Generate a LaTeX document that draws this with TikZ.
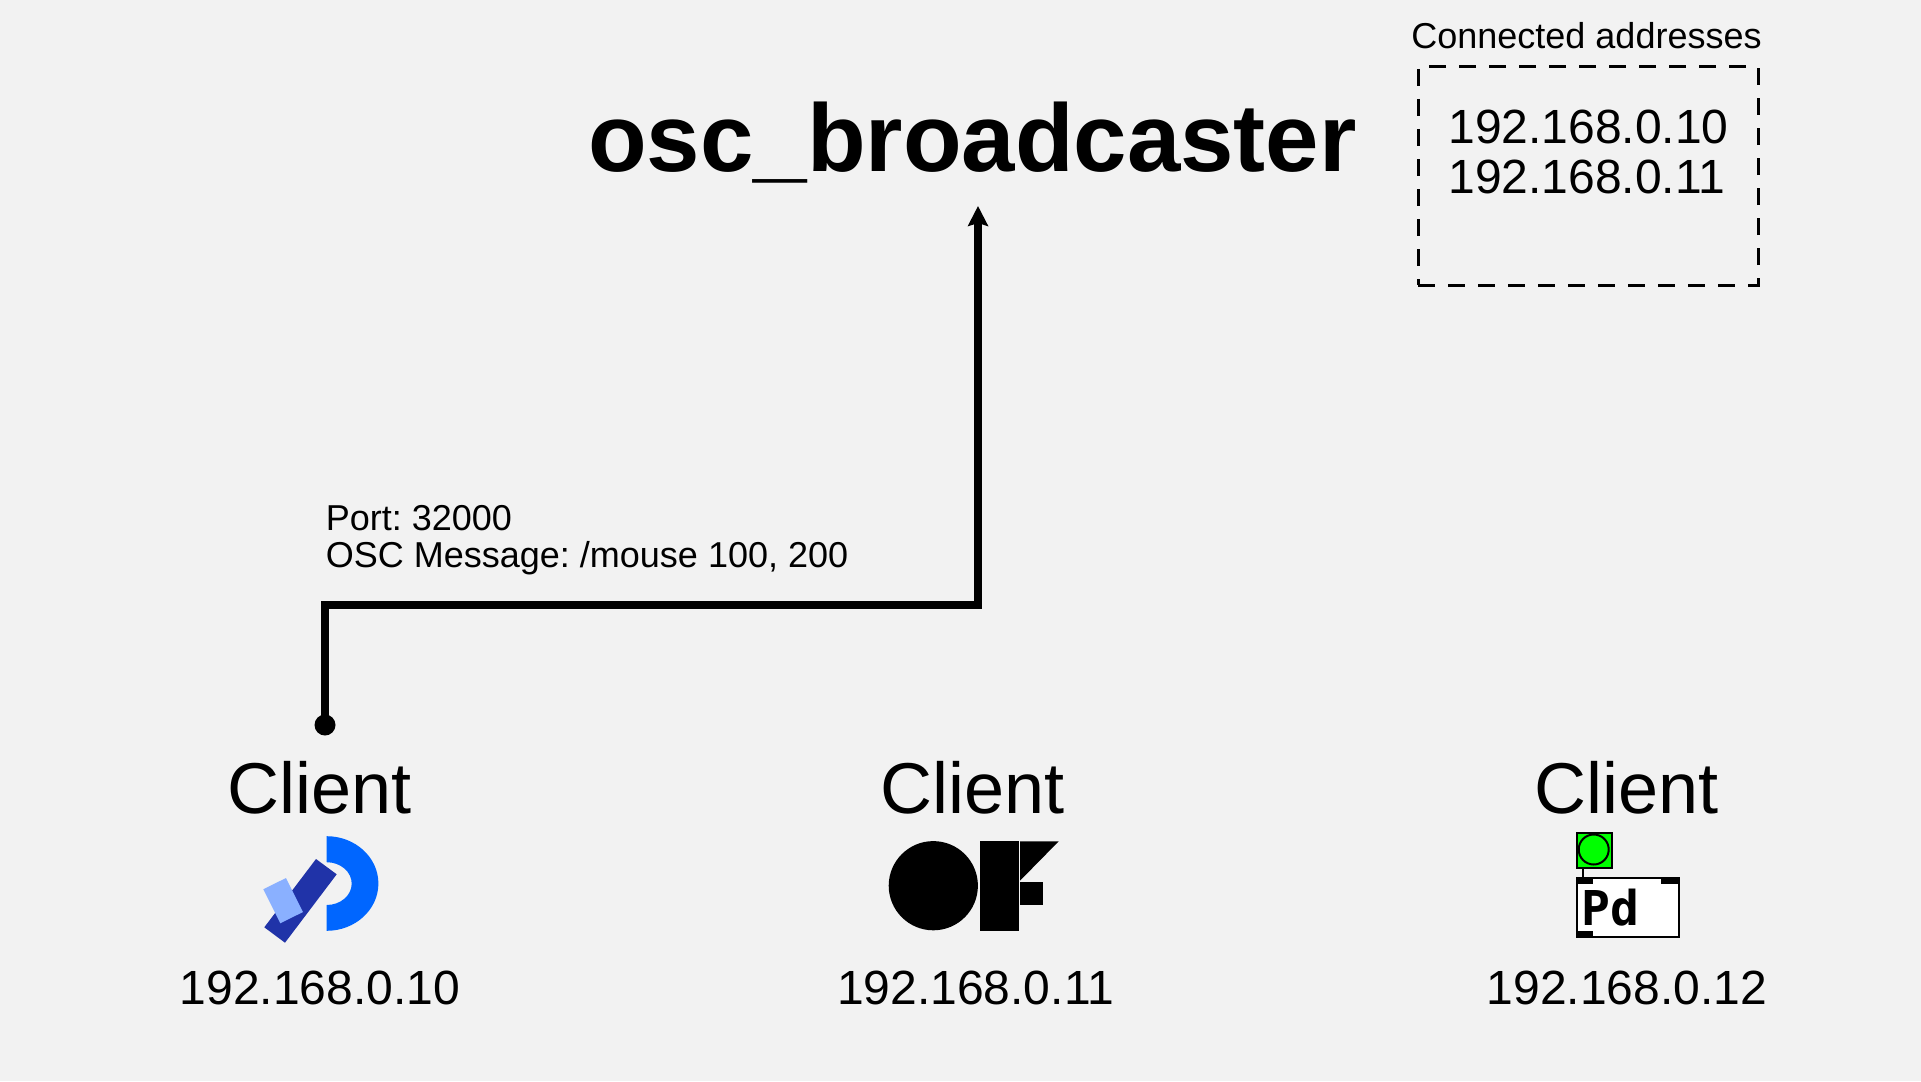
\documentclass[tikz,border=0pt]{standalone}
\usepackage{fontspec}
\setmainfont{Liberation Sans}
\newfontfamily\pdmono{DejaVu Sans Mono}
\usetikzlibrary{arrows.meta}
\definecolor{pagegrey}{HTML}{F2F2F2}
\definecolor{logoblue}{HTML}{0066FF}
\definecolor{logonavy}{HTML}{2033A8}
\definecolor{logosky}{HTML}{8AB0FF}
\definecolor{pdgreen}{HTML}{00FF00}
\tikzset{
  txt/.style={inner sep=0pt,outer sep=0pt,anchor=base},
  clientname/.style={txt,font=\fontsize{36pt}{36pt}\selectfont},
  clientaddr/.style={txt,font=\fontsize{24pt}{24pt}\selectfont},
  wire/.style={line width=3.7pt,miter limit=10},
  pdline/.style={draw=black,line width=1pt},
}
\begin{document}
\frenchspacing
\begin{tikzpicture}[x=0.5pt,y=-0.5pt]
            \useasboundingbox (0,0) rectangle (1921,1081);
            \fill[pagegrey] (0,0) rectangle (1921,1081);
            \node[txt,font=\bfseries\fontsize{48pt}{48pt}\selectfont] (title) at (972.5,171) {osc\_broadcaster};
            %connected list
            \node[txt,font=\fontsize{18pt}{18pt}\selectfont] (listhead) at (1586.5,49) {Connected addresses};
            \node[draw,line width=1.5pt,dash pattern=on 8.5pt off 6.5pt,minimum width=170pt,minimum height=109pt,outer sep=0pt,inner sep=0pt] (listbox) at (1588,176) {};
            \node[inner sep=0pt,anchor=north west,align=left,font=\fontsize{24pt}{25pt}\selectfont] (listaddr) at (1448,110) {192.168.0.10\\192.168.0.11};
            %message
            \node[inner sep=0pt,anchor=north west,align=left,font=\fontsize{18pt}{18.5pt}\selectfont] (msg) at (325.5,505) {Port: 32000\\OSC Message: /mouse 100, 200};
            \node[circle,fill=black,minimum size=10.5pt,inner sep=0pt] (srcdot) at (325,725) {};
            \coordinate (bendl) at (325,605);
            \coordinate (bendr) at (978,605);
            \coordinate (inport) at (978,206);
            \draw[wire,-{Stealth[length=10pt,width=10pt,inset=1.5pt]}] (srcdot.center) -- (bendl) -- (bendr) -- (inport);
            %clients
            \node[clientname] (namea) at (319.5,813.5) {Client};
            \node[clientname] (nameb) at (973,813.5) {Client};
            \node[clientname] (namec) at (1627,813.5) {Client};
            \node[clientaddr] (addra) at (320,1004) {192.168.0.10};
            \node[clientaddr] (addrb) at (975.5,1004) {192.168.0.11};
            \node[clientaddr] (addrc) at (1627,1004) {192.168.0.12};
            %first logo
            \fill[logoblue] (326.7,836.2) arc[start angle=-90,end angle=90,x radius=51.7,y radius=47.3] -- (326.7,905) arc[start angle=90,end angle=-90,x radius=25,y radius=21.4] -- cycle;
            \fill[logonavy] (316,859) -- (336.7,874.3) -- (285,942.7) -- (264.3,927.3) -- cycle;
            \fill[logosky] (263.3,889.3) -- (286,878) -- (303,912) -- (280.3,923.3) -- cycle;
            %second logo
            \fill (933.3,885.7) circle[radius=22.3pt];
            \fill (980,841.3) rectangle (1019,930.7);
            \fill (1020,841.3) -- (1058.7,841.3) -- (1020,880.7) -- cycle;
            \fill (1020,881.7) rectangle (1043.3,904.7);
            %third logo
            \draw[pdline] (1583.3,866) -- (1583.3,879);
            \draw[pdline,fill=pdgreen] (1576.5,832.5) rectangle (1611.5,867.5);
            \draw[pdline] (1593.7,849.5) circle[radius=7.5pt];
            \draw[pdline,fill=white] (1576.5,878) rectangle (1678.5,936.5);
            \fill (1576,877.5) rectangle (1593.3,884);
            \fill (1660.7,877.5) rectangle (1679,884);
            \fill (1576,931) rectangle (1593.3,937);
            \node[txt,font=\pdmono\bfseries\fontsize{24pt}{24pt}\selectfont] (pdname) at (1610,925) {Pd};
        \end{tikzpicture}
\end{document}
